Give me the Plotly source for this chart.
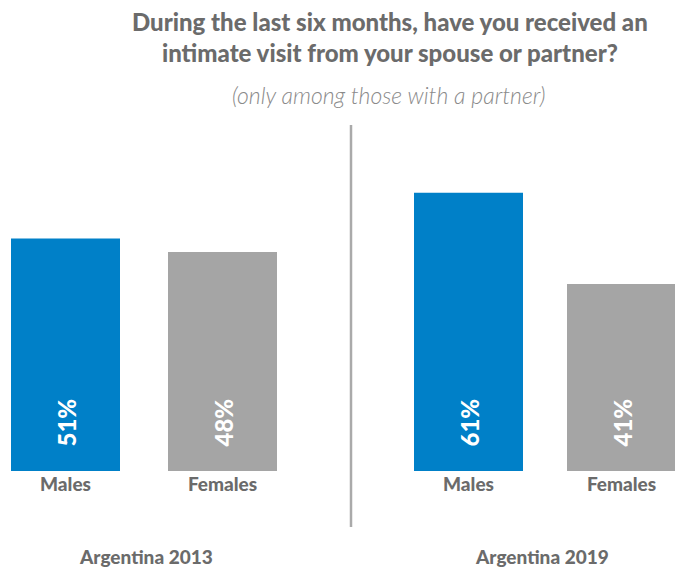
import plotly.graph_objects as go

# Survey answers: share who received an intimate visit (%)
categories = ["Males", "Females"]
panels = ["Argentina 2013", "Argentina 2019"]
values_2013 = [51, 48]
values_2019 = [61, 41]

title_lines = [
    "During the last six months, have you received an",
    "intimate visit from your spouse or partner?",
]
subtitle = "(only among those with a partner)"

# ---- layout constants (pixels) ----
W, H = 675, 567
SPLIT_X = 351           # vertical divider between the two panels
BASE_Y = 471            # pixel row of the bars' base
PX_PER_PCT = 4.56       # vertical scale
BAR_PX = 109            # bar width in pixels
BLUE = "#0080c8"
GREY = "#a5a5a5"
TEXT = "#6b6b6b"
FONT = "Lato"


def py(p):
    """pixel row -> paper y"""
    return 1 - p / H


def px(p):
    """pixel column -> paper x"""
    return p / W


# panel geometry: (domain start px, domain end px, first bar centre px, pitch px)
geom = [
    (0, SPLIT_X, 65.5, 157),
    (SPLIT_X, W, 468.5, 153),
]

y_top_px = 15
y_max = (BASE_Y - y_top_px) / PX_PER_PCT

fig = go.Figure()

colors = [BLUE, GREY]
for i, (vals, (d0, d1, c0, pitch)) in enumerate(zip([values_2013, values_2019], geom)):
    xa = "x" if i == 0 else "x2"
    ya = "y" if i == 0 else "y2"
    fig.add_trace(go.Bar(
        x=categories, y=vals, xaxis=xa, yaxis=ya,
        marker=dict(color=colors, line=dict(width=0)),
        width=BAR_PX / pitch,
        hoverinfo="skip", showlegend=False,
    ))
    # value labels, rotated, near the base of each bar
    for cat, v in zip(categories, vals):
        fig.add_annotation(
            x=cat, y=0, xref=xa, yref=ya,
            text=f"{v}%", textangle=-90, showarrow=False,
            xanchor="center", yanchor="bottom", yshift=22,
            font=dict(family=FONT, size=24, color="white", weight=900),
        )
    r0 = -(c0 - d0) / pitch
    r1 = r0 + (d1 - d0) / pitch
    axis_common = dict(
        domain=[px(d0), px(d1)], range=[r0, r1], type="category",
        showgrid=False, zeroline=False, showline=False, ticks="",
        tickfont=dict(family=FONT, size=19, color=TEXT, weight=900),
        ticklabelstandoff=0,
    )
    yaxis_common = dict(
        domain=[py(BASE_Y), py(y_top_px)], range=[0, y_max],
        visible=False, showgrid=False, zeroline=False,
    )
    if i == 0:
        fig.update_layout(xaxis=dict(anchor="y", **axis_common),
                          yaxis=dict(anchor="x", **yaxis_common))
    else:
        fig.update_layout(xaxis2=dict(anchor="y2", **axis_common),
                          yaxis2=dict(anchor="x2", **yaxis_common))

# panel names
for name, cx in zip(panels, [146, 541.5]):
    fig.add_annotation(
        x=px(cx), y=py(556), xref="paper", yref="paper",
        text=name, showarrow=False, xanchor="center", yanchor="middle",
        font=dict(family=FONT, size=19, color=TEXT, weight=900),
    )

# title and subtitle
fig.add_annotation(
    x=px(390), y=py(37), xref="paper", yref="paper",
    text="<br>".join(title_lines), showarrow=False,
    xanchor="center", yanchor="middle", align="center",
    font=dict(family=FONT, size=24, color=TEXT, weight=900),
)
fig.add_annotation(
    x=px(389), y=py(95), xref="paper", yref="paper",
    text=subtitle, showarrow=False, xanchor="center", yanchor="middle",
    font=dict(family=FONT, size=23, color="#8a8a8a", style="italic", weight=300),
)

# divider between panels
fig.add_shape(
    type="line", xref="paper", yref="paper",
    x0=px(SPLIT_X), x1=px(SPLIT_X), y0=py(125), y1=py(527),
    line=dict(color="#aaaaaa", width=2.5),
)

fig.update_layout(
    width=W, height=H,
    margin=dict(l=0, r=0, t=0, b=0),
    paper_bgcolor="white", plot_bgcolor="white",
    barmode="group",
)

fig.write_html("out.html")
